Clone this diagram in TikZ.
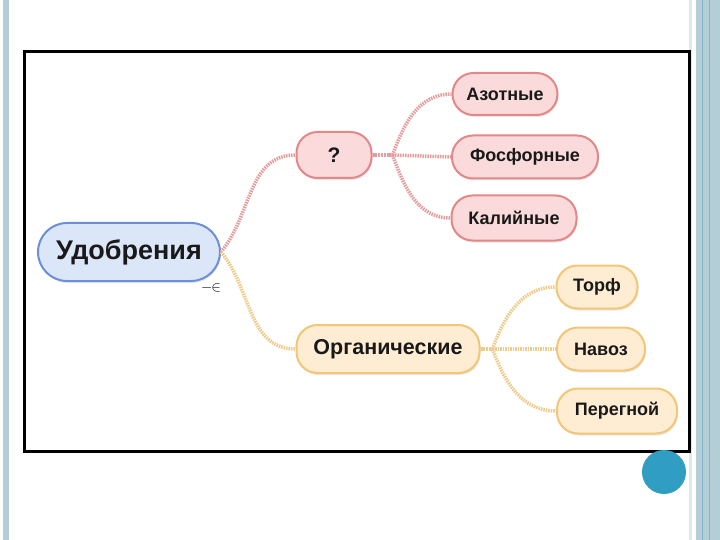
\documentclass[tikz,border=0pt]{standalone}
\usepackage{fontspec}
\setmainfont{Liberation Sans}
\usetikzlibrary{positioning, shadows}

\definecolor{rootfill}{HTML}{DCE6F9}
\definecolor{rootline}{HTML}{6D8FD9}
\definecolor{redfill}{HTML}{FADADA}
\definecolor{redline}{HTML}{E38888}
\definecolor{linkred}{HTML}{E59C9C}
\definecolor{orfill}{HTML}{FEEDD2}
\definecolor{orline}{HTML}{F2C677}
\definecolor{linkor}{HTML}{EECB8A}
\definecolor{stripe}{HTML}{B3CED6}
\definecolor{stripeline}{HTML}{84B3C3}
\definecolor{dotblue}{HTML}{2F9EC2}

\tikzstyle{bubble} = [rectangle, line width=2pt, text=black!90, drop shadow={opacity=0.18, shadow xshift=1pt, shadow yshift=-2pt}]
\tikzstyle{rootbubble} = [bubble, draw=rootline, fill=rootfill, rounded corners=29pt, minimum height=58pt, font=\bfseries\fontsize{27}{30}\selectfont]
\tikzstyle{redbubble} = [bubble, draw=redline, fill=redfill, rounded corners=21pt, font=\bfseries\fontsize{18}{21}\selectfont]
\tikzstyle{orbubble} = [bubble, draw=orline, fill=orfill, rounded corners=21pt, font=\bfseries\fontsize{18}{21}\selectfont]
\tikzstyle{redwire} = [draw=linkred, line width=3.5pt, dash pattern=on 1.5pt off 1pt]
\tikzstyle{orwire} = [draw=linkor, line width=3.5pt, dash pattern=on 1.5pt off 1pt]

\begin{document}
\begin{tikzpicture}[x=1pt, y=-1pt]

    % Page
    \useasboundingbox (0,0) rectangle (720,540);
    \fill[white] (0,0) rectangle (720,540);
    \fill[stripe] (3,0) rectangle (9,540);
    \fill[stripe!45] (689,0) rectangle (692,540);
    \fill[stripe] (696,0) rectangle (720,540);
    \draw[stripeline, line width=1pt] (702,0) -- (702,540);
    \draw[stripeline, line width=1pt] (709,0) -- (709,540);
    \draw[line width=3pt] (24,52) rectangle (689,451);
    \fill[dotblue] (664,472) circle (22pt);

    % Nodes
    \node[rootbubble, minimum width=182pt] (Root) at (129,252) {Удобрения};
    \node[redbubble, minimum width=75pt, minimum height=46pt, font=\bfseries\fontsize{21}{24}\selectfont] (Q) at (334,155) {?};
    \node[redbubble, minimum width=105pt, minimum height=42pt] (Az) at (505,94) {Азотные};
    \node[redbubble, minimum width=146pt, minimum height=43pt] (Fos) at (525,157) {Фосфорные};
    \node[redbubble, minimum width=125pt, minimum height=45pt] (Kal) at (514,218) {Калийные};
    \node[orbubble, minimum width=183pt, minimum height=48pt, font=\bfseries\fontsize{21.5}{24}\selectfont] (Org) at (388,349) {Органические};
    \node[orbubble, minimum width=81pt, minimum height=43pt] (Torf) at (597,287) {Торф};
    \node[orbubble, minimum width=88pt, minimum height=43pt] (Navoz) at (601,349) {Навоз};
    \node[orbubble, minimum width=120pt, minimum height=45pt] (Pereg) at (617,411) {Перегной};
    \node[inner sep=0pt, font=\fontsize{15}{15}\selectfont] (Mark) at (211,288) {$-\!\!\in$};

    % Forks
    \coordinate[right=20pt of Q.east] (QFork);
    \coordinate[right=12pt of Org.east] (OrgFork);

    % Links
    \draw[redwire] (Root.east) to[out=50, in=180] (Q.west);
    \draw[orwire] (Root.east) to[out=-50, in=180] (Org.west);
    \draw[linkred, line width=4pt, dash pattern=on 2pt off 0.8pt] (Q.east) -- (QFork);
    \draw[redwire] (QFork) to[out=70, in=180] (Az.west);
    \draw[redwire] (QFork) -- (Fos.west);
    \draw[redwire] (QFork) to[out=-70, in=180] (Kal.west);
    \draw[linkor, line width=4pt, dash pattern=on 2pt off 0.8pt] (Org.east) -- (OrgFork);
    \draw[orwire] (OrgFork) to[out=70, in=180] (Torf.west);
    \draw[orwire] (OrgFork) -- (Navoz.west);
    \draw[orwire] (OrgFork) to[out=-70, in=180] (Pereg.west);

\end{tikzpicture}
\end{document}
